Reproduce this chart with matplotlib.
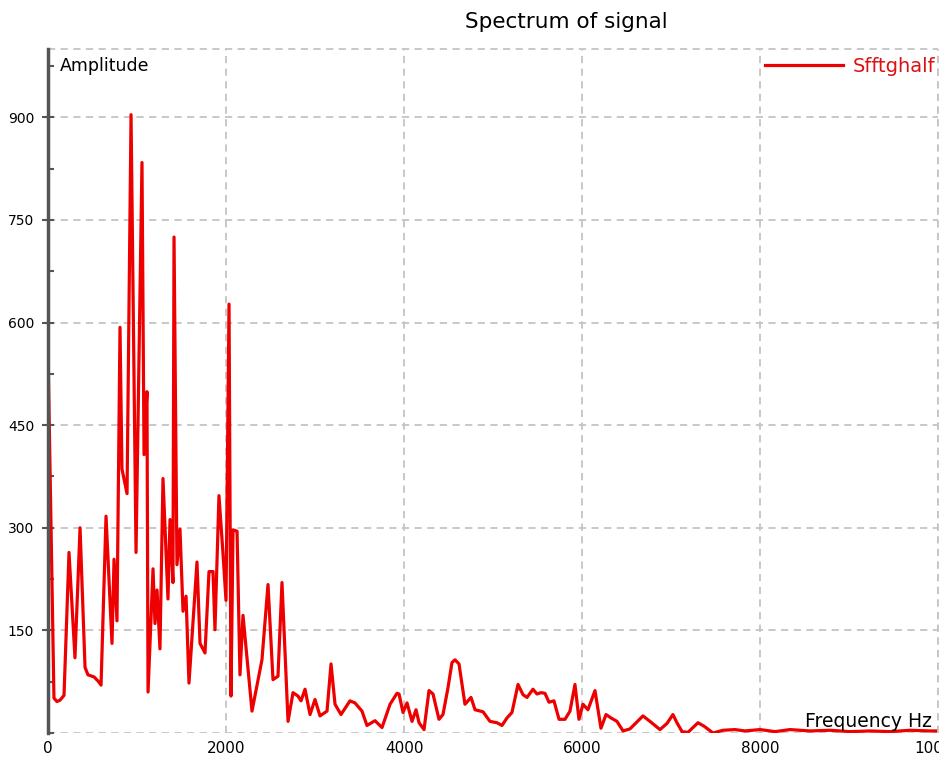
import matplotlib
matplotlib.use("Agg")
import matplotlib.pyplot as plt
from matplotlib.ticker import MultipleLocator

# spectrum (frequency in Hz, amplitude)
freq = [0, 67, 101, 135, 180, 236, 303, 360, 416, 449, 517, 562, 596, 652,
        719, 742, 775, 809, 831, 888, 933, 989, 1056, 1079, 1112, 1124, 1180,
        1202, 1225, 1258, 1292, 1348, 1371, 1404, 1416, 1449, 1483, 1517, 1551,
        1584, 1674, 1708, 1764, 1809, 1854, 1876, 1921, 1966, 2000, 2034, 2056,
        2079, 2124, 2157, 2191, 2292, 2404, 2472, 2528, 2584, 2629, 2697, 2753,
        2809, 2843, 2888, 2944, 3000, 3056, 3135, 3180, 3225, 3292, 3393, 3449,
        3528, 3584, 3674, 3753, 3843, 3921, 3944, 3989, 4034, 4090, 4135, 4169,
        4225, 4281, 4326, 4393, 4438, 4494, 4539, 4573, 4618, 4685, 4753, 4798,
        4888, 4966, 5045, 5101, 5157, 5213, 5281, 5337, 5382, 5449, 5494, 5539,
        5584, 5629, 5685, 5742, 5809, 5865, 5921, 5966, 6011, 6067, 6146, 6213,
        6270, 6326, 6393, 6461, 6539, 6685, 6764, 6876, 6955, 7022, 7067, 7124,
        7191, 7303, 7371, 7472, 7584, 7719, 7831, 8000, 8169, 8337, 8562, 8787,
        9011, 9236, 9461, 9685, 9910, 10135]
amp = [560, 51, 46, 48, 55, 264, 110, 300, 96, 85, 82, 76, 70, 317,
       131, 254, 164, 593, 386, 350, 904, 264, 834, 407, 499, 60, 240,
       160, 209, 123, 372, 196, 312, 220, 725, 246, 298, 178, 200,
       73, 250, 131, 117, 236, 236, 151, 347, 263, 194, 627, 54,
       297, 295, 85, 172, 32, 107, 217, 78, 83, 220, 17, 59,
       54, 47, 64, 27, 49, 25, 32, 101, 42, 27, 47, 44,
       32, 11, 18, 8, 42, 58, 57, 30, 44, 17, 34, 15,
       5, 62, 57, 20, 27, 66, 103, 107, 101, 42, 52, 34,
       31, 17, 15, 11, 22, 30, 71, 56, 52, 64, 57, 59,
       58, 45, 47, 20, 20, 32, 71, 20, 42, 34, 62, 7,
       27, 22, 17, 3, 6, 25, 17, 5, 14, 27, 15, 2,
       1, 15, 10, 0, 4, 5, 3, 5, 2, 5, 3, 4,
       2, 3, 2, 4, 3, 3]

fig = plt.figure(figsize=(9.39, 7.6), dpi=100)
ax = fig.add_axes([48/939, 27/760, 890/939, 684/760])

ax.plot(freq, amp, color="#ee0000", lw=2.3, label="Sfftghalf")

ax.set_xlim(0, 10000)
ax.set_ylim(0, 1000)
ax.xaxis.set_major_locator(MultipleLocator(2000))
ax.yaxis.set_minor_locator(MultipleLocator(75))
ax.set_yticks([150, 300, 450, 600, 750, 900])

grid_kw = dict(color="#c4c4c4", ls=(0, (4, 3)), lw=1.3)
ax.grid(True, **grid_kw)
ax.axhline(0, zorder=0.5, **grid_kw)
ax.axhline(1000, clip_on=False, **grid_kw)
ax.axvline(10000, clip_on=False, **grid_kw)
ax.set_axisbelow(True)

for s in ["top", "right", "bottom"]:
    ax.spines[s].set_visible(False)
ax.spines["left"].set_color("#555555")
ax.spines["left"].set_linewidth(2.5)

ax.tick_params(axis="y", which="major", direction="inout", length=8, width=1.5,
               color="#555555", labelsize=10, pad=6)
ax.tick_params(axis="y", which="minor", direction="in", length=4, width=1.5,
               color="#555555")
ax.tick_params(axis="x", length=0, labelsize=11, pad=6)

ax.text(0.013, 0.988, "Amplitude", transform=ax.transAxes, fontsize=12.5,
        va="top", ha="left")
ax.text(0.851, 0.009, "Frequency Hz", transform=ax.transAxes, fontsize=13.5,
        va="baseline", ha="left")

ax.legend(loc="upper left", bbox_to_anchor=(0.806, 0.988), frameon=False,
          labelcolor="#dd1111", handlelength=4.0, handletextpad=0.5,
          fontsize=14, borderpad=0, borderaxespad=0)

fig.text(566/939, 1 - 22/760, "Spectrum of signal", ha="center", va="center",
         fontsize=15.5)

fig.savefig("out.png", dpi=100)
